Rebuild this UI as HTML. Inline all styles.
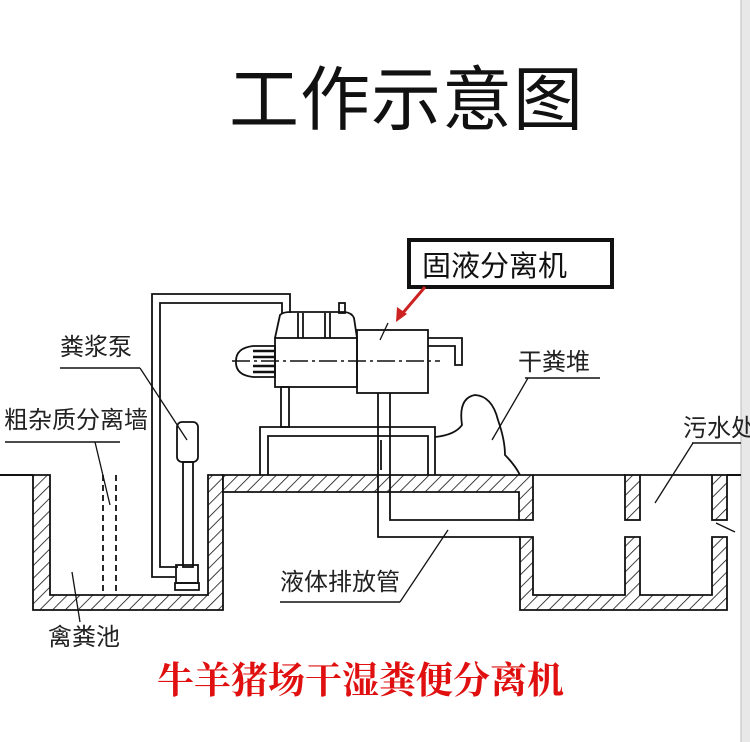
<!DOCTYPE html>
<html><head><meta charset="utf-8"><style>
html,body{margin:0;padding:0;background:#fff;width:750px;height:742px;overflow:hidden}
svg{display:block}
text{font-family:"Liberation Sans","Noto Sans CJK SC",sans-serif}
</style></head><body>
<svg width="750" height="742" viewBox="0 0 750 742" xmlns="http://www.w3.org/2000/svg">
<defs>
<pattern id="h" width="9" height="9" patternUnits="userSpaceOnUse" patternTransform="rotate(45)">
<rect width="9" height="9" fill="#fff"/><line x1="0" y1="0" x2="0" y2="9" stroke="#111" stroke-width="1.6"/>
</pattern>
</defs>
<rect x="741" y="0" width="9" height="742" fill="#e8e8e8"/>
<line x1="741" y1="0" x2="741" y2="742" stroke="#bbb"/>
<text x="229" y="124" font-size="70" fill="#111" letter-spacing="1">工作示意图</text>

<g stroke="#111" stroke-width="2" fill="none">
<line x1="0" y1="475" x2="33" y2="475"/>
<line x1="727" y1="475" x2="741" y2="475"/>
</g>
<g stroke="#111" stroke-width="1.8" fill="url(#h)">
<path d="M33 475 H50 V595 H208 V475 H223 V610 H33 Z"/>
<path d="M223 475 H533 V520 H519 V492 H223 Z"/>
<path d="M520 537 H533 V595 H625 V537 H640 V595 H712 V537 H727 V610 H520 Z"/>
<rect x="625" y="475" width="15" height="45"/>
<rect x="712" y="475" width="15" height="45"/>
</g>
<g stroke="#111" stroke-width="1.8" fill="none">
<line x1="533" y1="475" x2="625" y2="475"/>
<line x1="640" y1="475" x2="712" y2="475"/>
<path d="M378 393 V537 H520"/>
<path d="M390 393 V520 H519"/>
<line x1="381" y1="440" x2="381" y2="470"/>
<path d="M175 577 H152 V294 H290 V313"/>
<path d="M178 567 H160 V303 H282 V313"/>
<rect x="177" y="422" width="21" height="40" rx="5"/>
<rect x="183" y="462" width="10" height="105"/>
<rect x="176" y="565" width="22" height="18"/>
<path d="M175 583 H199 V590 H175 Z"/>
<line x1="103" y1="475" x2="103" y2="595" stroke-dasharray="6,4"/>
<line x1="116" y1="475" x2="116" y2="595" stroke-dasharray="6,4"/>
<path d="M260 475 V427 H435 V475"/>
<path d="M268 475 V436 H428 V475"/>
<rect x="281" y="387" width="8" height="40"/>
<path d="M275 338 L280 315 Q283 312 290 312 H345 Q352 313 354 318 L357 338"/>
<line x1="298" y1="313" x2="298" y2="338"/><line x1="303" y1="313" x2="303" y2="338"/>
<line x1="325" y1="313" x2="325" y2="338"/><line x1="330" y1="313" x2="330" y2="338"/>
<rect x="339" y="303" width="6" height="10"/>
<rect x="275" y="338" width="82" height="49"/>
<rect x="357" y="330" width="71" height="63"/>
<path d="M428 338 H462 V365 H455 V346 H428"/>
<path d="M253 346 H275 V377 H253 Q235 375 236 361 Q236 348 253 346 Z"/>
<g stroke-width="2.5"><line x1="253" y1="351" x2="275" y2="351"/><line x1="253" y1="357" x2="275" y2="357"/><line x1="253" y1="366" x2="275" y2="366"/><line x1="253" y1="372" x2="275" y2="372"/></g>
<line x1="232" y1="361" x2="440" y2="361" stroke-dasharray="18,4,3,4" stroke-width="1.4"/>
<path d="M435 437 Q455 435 462 425 Q458 398 475 395 Q492 396 498 420 Q505 440 505 455 Q515 465 520 475"/>
<line x1="60" y1="368" x2="140" y2="368" stroke-width="1.5"/><line x1="140" y1="368" x2="187" y2="440" stroke-width="1.3"/>
<line x1="5" y1="442" x2="120" y2="442" stroke-width="1.5"/><line x1="95" y1="442" x2="110" y2="505" stroke-width="1.3"/>
<line x1="72" y1="572" x2="80" y2="622" stroke-width="1.3"/>
<line x1="280" y1="602" x2="400" y2="602" stroke-width="1.5"/><line x1="400" y1="602" x2="448" y2="530" stroke-width="1.3"/>
<line x1="525" y1="378" x2="600" y2="378" stroke-width="1.5"/><line x1="528" y1="378" x2="492" y2="440" stroke-width="1.3"/>
<line x1="692" y1="443" x2="741" y2="443" stroke-width="1.5"/><line x1="693" y1="443" x2="655" y2="503" stroke-width="1.3"/>
<line x1="716" y1="523" x2="735" y2="532" stroke-width="1.3"/>
<line x1="388" y1="323" x2="380" y2="340" stroke-width="1.3"/>
</g>
<rect x="409" y="240" width="203" height="47" fill="#fff" stroke="#111" stroke-width="4"/>
<text x="422" y="276" font-size="29" fill="#111">固液分离机</text>
<line x1="425" y1="287" x2="402" y2="314" stroke="#c22" stroke-width="3"/>
<path d="M396 322 L397 307 L407 314 Z" fill="#c22"/>

<g fill="#222" font-size="24">
<text x="60" y="355">粪浆泵</text>
<text x="4" y="428">粗杂质分离墙</text>
<text x="48" y="645">禽粪池</text>
<text x="280" y="590">液体排放管</text>
<text x="518" y="370">干粪堆</text>
<text x="683" y="436">污水处</text>
</g>
<text x="157" y="693" font-size="37" font-weight="bold" fill="#e01010" style="font-family:'Noto Serif CJK SC',serif">牛羊猪场干湿粪便分离机</text>
</svg>
</body></html>
